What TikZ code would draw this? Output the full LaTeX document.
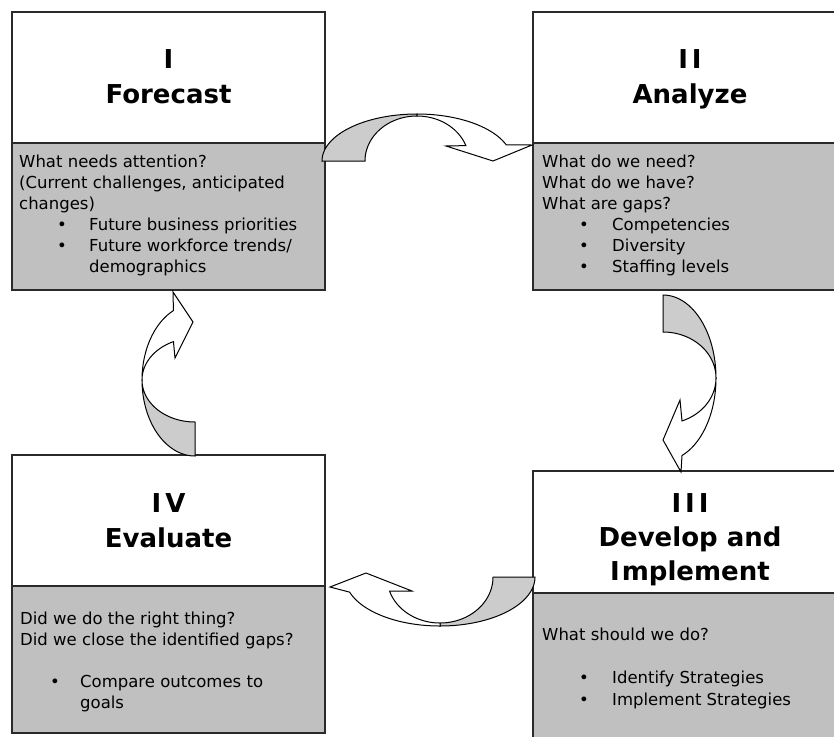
\documentclass[tikz,border=0pt]{standalone}
\usepackage{fontspec}
\setmainfont{DejaVu Sans}
\definecolor{boxgrey}{HTML}{C0C0C0}
\definecolor{arrowgrey}{HTML}{CCCCCC}
\definecolor{edge}{HTML}{2A2A2A}
\begin{document}
\begin{tikzpicture}[x=1pt,y=-1pt,
  panel/.style={draw=edge, line width=1.4pt, anchor=north west, inner sep=0pt, outer sep=0pt},
  headbox/.style={panel, fill=white},
  bodybox/.style={panel, fill=boxgrey},
  title/.style={font=\fontsize{26}{30}\selectfont\bfseries, anchor=base, inner sep=0pt},
  txt/.style={font=\fontsize{16.5}{20}\selectfont, anchor=base west, inner sep=0pt},
  ribbon/.style={draw=black, line width=1pt, line join=miter},
]
\useasboundingbox (0,0) rectangle (834,736);
\clip (0,0) rectangle (834,736);

% ---- boxes ----
\node[bodybox, minimum width=313pt, minimum height=147pt] (g1) at (12,143) {};
\node[headbox, minimum width=313pt, minimum height=131pt] (h1) at (12,12) {};
\node[bodybox, minimum width=314pt, minimum height=147pt] (g2) at (533,143) {};
\node[headbox, minimum width=314pt, minimum height=131pt] (h2) at (533,12) {};
\node[bodybox, minimum width=313pt, minimum height=147pt] (g4) at (12,586) {};
\node[headbox, minimum width=313pt, minimum height=131pt] (h4) at (12,455) {};
\node[bodybox, minimum width=314pt, minimum height=160pt] (g3) at (533,593) {};
\node[headbox, minimum width=314pt, minimum height=122pt] (h3) at (533,471) {};

% ---- titles ----
\node[title] (t1a) at (168.5,68) {I};
\node[title] (t1b) at (168.5,103) {Forecast};
\node[title] (t2a) at (690,68) {I\kern4pt I};
\node[title] (t2b) at (690,103) {Analyze};
\node[title] (t4a) at (168.5,512) {I\kern4pt V};
\node[title] (t4b) at (168.5,547) {Evaluate};
\node[title] (t3a) at (690,512) {I\kern4pt I\kern4pt I};
\node[title] (t3b) at (690,546) {Develop and};
\node[title] (t3c) at (690,580) {I\kern2pt mplement};

% ---- box I text ----
\node[txt] (a1) at (19,167) {What needs attention?};
\node[txt] (a2) at (19,188) {(Current challenges, anticipated};
\node[txt] (a3) at (19,209) {changes)};
\node[txt] (a4b) at (57,230) {•};
\node[txt] (a4) at (89,230) {Future business priorities};
\node[txt] (a5b) at (57,251) {•};
\node[txt] (a5) at (89,251) {Future workforce trends/};
\node[txt] (a6) at (89,272) {demographics};

% ---- box II text ----
\node[txt] (b1) at (542,167) {What do we need?};
\node[txt] (b2) at (542,188) {What do we have?};
\node[txt] (b3) at (542,209) {What are gaps?};
\node[txt] (b4b) at (579,230) {•};
\node[txt] (b4) at (612,230) {Competencies};
\node[txt] (b5b) at (579,251) {•};
\node[txt] (b5) at (612,251) {Diversity};
\node[txt] (b6b) at (579,272) {•};
\node[txt] (b6) at (612,272) {Staffing levels};

% ---- box IV text ----
\node[txt] (d1) at (20,624) {Did we do the right thing?};
\node[txt] (d2) at (20,645) {Did we close the identified gaps?};
\node[txt] (d3b) at (50,687) {•};
\node[txt] (d3) at (80,687) {Compare outcomes to};
\node[txt] (d4) at (80,708) {goals};

% ---- box III text ----
\node[txt] (c1) at (542,640) {What should we do?};
\node[txt] (c2b) at (579,683) {•};
\node[txt] (c2) at (612,683) {Identify Strategies};
\node[txt] (c3b) at (579,705) {•};
\node[txt] (c3) at (612,705) {Implement Strategies};

% ---- arrow I -> II (top) ----
\filldraw[ribbon, fill=arrowgrey]
  plot[domain=180:270,samples=40] ({417+95*cos(\x)},{161+47*sin(\x)})
  -- plot[domain=270:180,samples=40] ({417+52*cos(\x)},{161+45*sin(\x)}) -- cycle;
\filldraw[ribbon, fill=white]
  plot[domain=270:340,samples=40] ({417+95*cos(\x)},{161+47*sin(\x)})
  -- (532,145) -- (493,161) -- (446,146)
  -- plot[domain=340:270,samples=40] ({417+52*cos(\x)},{161+45*sin(\x)}) -- cycle;

% ---- arrow II -> III (right) ----
\filldraw[ribbon, fill=arrowgrey]
  plot[domain=270:360,samples=40] ({663+53*cos(\x)},{378+83*sin(\x)})
  -- plot[domain=360:270,samples=40] ({663+53*cos(\x)},{378+46*sin(\x)}) -- cycle;
\filldraw[ribbon, fill=white]
  plot[domain=0:69,samples=40] ({663+53*cos(\x)},{378+83*sin(\x)})
  -- (681,472) -- (663,440) -- (680,400)
  -- plot[domain=69:0,samples=40] ({663+53*cos(\x)},{378+46*sin(\x)}) -- cycle;

% ---- arrow III -> IV (bottom) ----
\filldraw[ribbon, fill=arrowgrey]
  plot[domain=0:90,samples=40] ({440+95*cos(\x)},{577+49*sin(\x)})
  -- plot[domain=90:0,samples=40] ({440+53*cos(\x)},{577+46*sin(\x)}) -- cycle;
\filldraw[ribbon, fill=white]
  plot[domain=90:162,samples=40] ({440+95*cos(\x)},{577+49*sin(\x)})
  -- (330,587) -- (366,573) -- (412,591)
  -- plot[domain=162:90,samples=40] ({440+53*cos(\x)},{577+46*sin(\x)}) -- cycle;

% ---- arrow IV -> I (left) ----
\filldraw[ribbon, fill=arrowgrey]
  plot[domain=180:90,samples=40] ({195+53*cos(\x)},{380+76*sin(\x)})
  -- plot[domain=90:180,samples=40] ({195+53*cos(\x)},{380+42*sin(\x)}) -- cycle;
\filldraw[ribbon, fill=white]
  plot[domain=180:246,samples=40] ({195+53*cos(\x)},{380+76*sin(\x)})
  -- (173,292) -- (193,322) -- (175,358)
  -- plot[domain=246:180,samples=40] ({195+53*cos(\x)},{380+42*sin(\x)}) -- cycle;
\end{tikzpicture}
\end{document}
